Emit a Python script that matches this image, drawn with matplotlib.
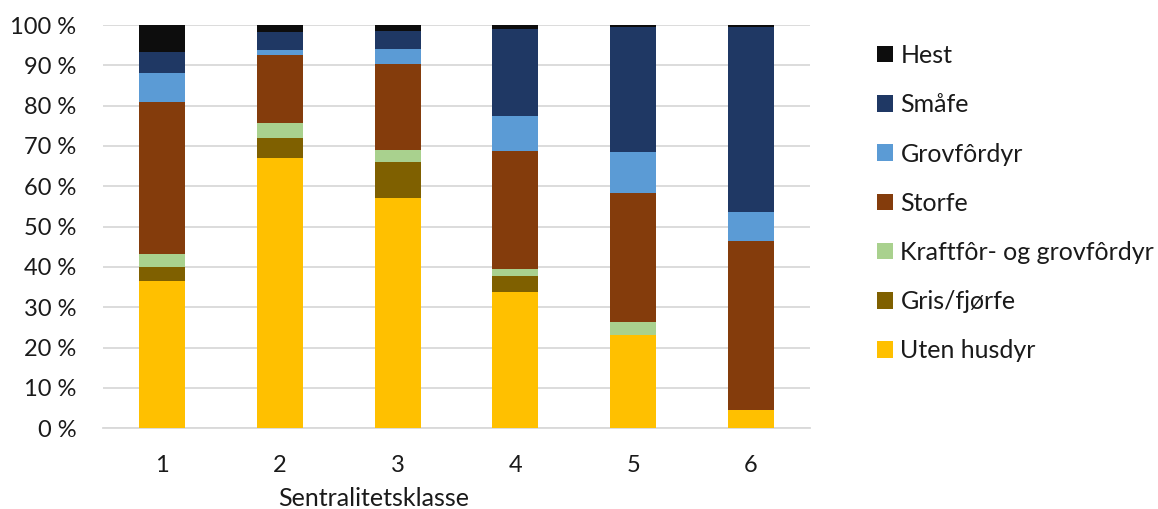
import matplotlib
matplotlib.use("Agg")
import matplotlib.pyplot as plt
from matplotlib.ticker import FuncFormatter
import numpy as np

plt.rcParams['font.family'] = ['Lato', 'DejaVu Sans']

categories = ["1", "2", "3", "4", "5", "6"]

uten_husdyr = [36.5, 66.9, 57.1, 33.7, 23.1, 4.6]
gris_fjorfe = [3.4, 5.1, 8.9, 4.0, 0.0, 0.0]
kraftfor_grovfor = [3.3, 3.6, 3.1, 1.9, 3.2, 0.0]
storfe = [37.6, 17.0, 21.3, 29.2, 32.0, 41.9]
grovfordyr = [7.2, 1.2, 3.6, 8.7, 10.3, 7.2]
smafe = [5.3, 4.5, 4.6, 21.6, 30.8, 45.7]
hest = [6.7, 1.7, 1.4, 0.9, 0.6, 0.6]

series = [
    ("Uten husdyr", uten_husdyr, "#FFC000"),
    ("Gris/fjørfe", gris_fjorfe, "#7F6000"),
    ("Kraftfôr- og grovfôrdyr", kraftfor_grovfor, "#A9D18E"),
    ("Storfe", storfe, "#843C0C"),
    ("Grovfôrdyr", grovfordyr, "#5B9BD5"),
    ("Småfe", smafe, "#1F3864"),
    ("Hest", hest, "#0D0D0D"),
]

FS = 17
FS_LEG = 18
TXT = '#1a1a1a'

fig = plt.figure(figsize=(11.58, 5.09), dpi=100)
ax = fig.add_axes([103 / 1158, (509 - 428.3) / 509, 707 / 1158, (428.3 - 25) / 509])

x = np.arange(1, len(categories) + 1)
bottom = np.zeros(len(categories))
handles = []
for name, vals, color in series:
    vals = np.array(vals)
    b = ax.bar(x, vals, width=0.39, bottom=bottom, color=color, label=name, zorder=3)
    handles.append(b)
    bottom += vals

ax.set_xlim(0.5, 6.5)
ax.set_ylim(0, 100)
ax.set_yticks(np.arange(0, 101, 10))
ax.yaxis.set_major_formatter(FuncFormatter(lambda v, p: f"{int(v)} %"))
ax.set_xticks(x)
ax.set_xticklabels(categories)
ax.grid(axis='y', color='#D9D9D9', linewidth=1.3, zorder=0)
for s in ['top', 'right', 'left']:
    ax.spines[s].set_visible(False)
ax.spines['bottom'].set_color('#D9D9D9')
ax.spines['bottom'].set_linewidth(1.3)
ax.tick_params(axis='both', length=0, labelsize=FS, colors=TXT)
ax.tick_params(axis='y', pad=19)
ax.tick_params(axis='x', pad=19)

# axis title sits under the left part of the category axis
fig.text(373.5 / 1158, 1 - 506 / 509, "Sentralitetsklasse", fontsize=FS_LEG,
         color=TXT, ha='center', va='baseline')

fig.legend(handles[::-1], [s[0] for s in series][::-1],
           loc='upper left', bbox_to_anchor=(854 / 1158, 1 - 21.5 / 509),
           frameon=False, fontsize=FS_LEG, handlelength=0.64, handleheight=0.64,
           handletextpad=0.32, labelspacing=1.05, labelcolor=TXT)

fig.savefig("out.png", dpi=100)
